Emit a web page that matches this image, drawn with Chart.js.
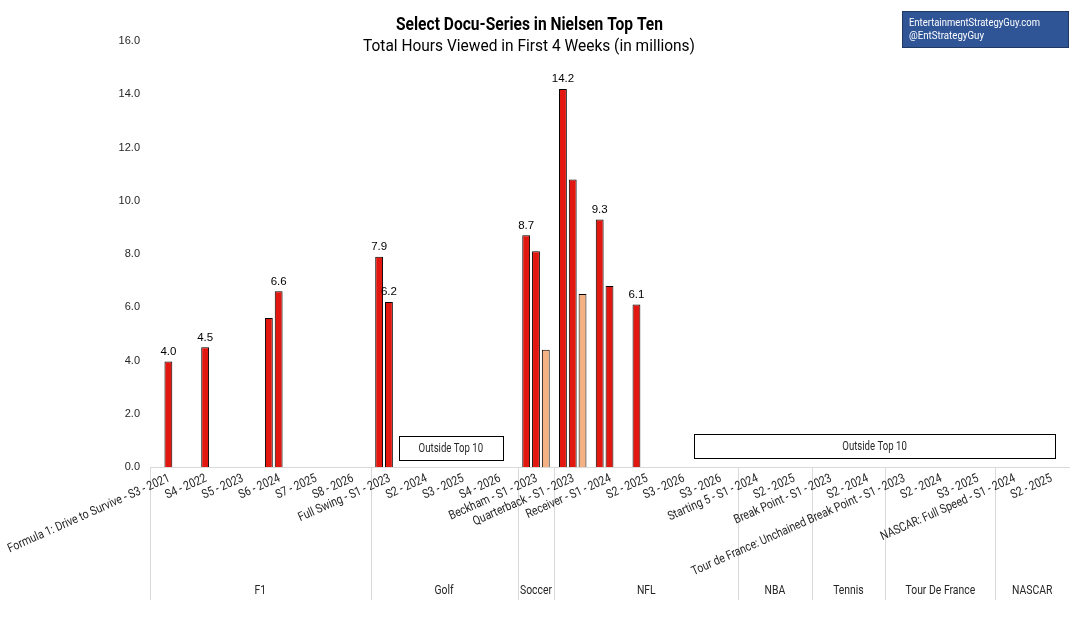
<!DOCTYPE html>
<html>
<head>
<meta charset="utf-8">
<script src="https://cdn.jsdelivr.net/npm/chart.js@4.4.1/dist/chart.umd.min.js"></script>
<style>
  html, body { margin: 0; padding: 0; background: #ffffff; }
  #wrap { width: 1086px; height: 624px; }
</style>
</head>
<body>
<div id="wrap"><canvas id="docuChart"></canvas></div>
<script>
// Chart data
const categories = [
    'Formula 1: Drive to Survive - S3 - 2021', 'S4 - 2022', 'S5 - 2023', 'S6 - 2024', 'S7 - 2025', 'S8 - 2026',
    'Full Swing - S1 - 2023', 'S2 - 2024', 'S3 - 2025', 'S4 - 2026',
    'Beckham - S1 - 2023',
    'Quarterback - S1 - 2023', 'Receiver - S1 - 2024', 'S2 - 2025', 'S3 - 2026', 'S3 - 2026',
    'Starting 5 - S1 - 2024', 'S2 - 2025',
    'Break Point - S1 - 2023', 'S2 - 2024',
    'Tour de France: Unchained Break Point - S1 - 2023', 'S2 - 2024', 'S3 - 2025',
    'NASCAR: Full Speed - S1 - 2024', 'S2 - 2025'
];
const groupNames = ['F1', 'Golf', 'Soccer', 'NFL', 'NBA', 'Tennis', 'Tour De France', 'NASCAR'];
const groupSizes = [6, 4, 1, 5, 2, 2, 3, 2];

const seriesA = [null, null, null, 5.6, null, null, 7.9, null, null, null, 8.7, 14.2, 9.3, 6.1, null, null, null, null, null, null, null, null, null, null, null];
const seriesB = [3.96, 4.5, null, 6.6, null, null, 6.2, null, null, null, 8.1, 10.8, 6.8, null, null, null, null, null, null, null, null, null, null, null, null];
const seriesC = [null, null, null, null, null, null, null, null, null, null, 4.4, 6.5, null, null, null, null, null, null, null, null, null, null, null, null, null];

// which bars carry a value label
const labelA = [6, 10, 11, 12, 13];
const labelB = [0, 1, 3, 6];

const yTicks = [0, 2, 4, 6, 8, 10, 12, 14, 16];

// "Outside Top 10" boxes, in category units / value units
const outsideFrom = [6.27, 14.3];
const outsideTo = [9.1, 24.12];
const outsideLow = [0.25, 0.34];
const outsideHigh = [1.15, 1.24];

const sans = "Roboto, 'Liberation Sans', sans-serif";
const red = '#E2170F';
const peach = '#F4B183';

// draw horizontally squeezed text, optionally rotated around its anchor
function narrowText(ctx, text, x, y, align, angle, squeeze) {
    ctx.save();
    ctx.translate(x, y);
    if (angle) ctx.rotate(angle);
    ctx.scale(squeeze, 1);
    ctx.textAlign = align;
    ctx.fillText(text, 0, 0);
    ctx.restore();
}

const extrasPlugin = {
    id: 'extras',
    beforeDraw(chart) {
        const ctx = chart.ctx;
        ctx.save();
        ctx.fillStyle = '#ffffff';
        ctx.fillRect(0, 0, chart.width, chart.height);
        ctx.restore();
    },
    afterDatasetsDraw(chart) {
        const ctx = chart.ctx;
        ctx.save();
        ctx.font = '11.5px "Liberation Sans", Arial, sans-serif';
        ctx.fillStyle = '#000000';
        ctx.textAlign = 'center';
        ctx.textBaseline = 'bottom';
        [[0, labelA, seriesA], [1, labelB, seriesB]].forEach(function(item) {
            const meta = chart.getDatasetMeta(item[0]);
            item[1].forEach(function(i) {
                const bar = meta.data[i];
                ctx.fillText(item[2][i].toFixed(1), bar.x, bar.y - 4);
            });
        });
        ctx.restore();
    },
    afterDraw(chart) {
        const ctx = chart.ctx;
        const x = chart.scales.x;
        const y = chart.scales.y;
        const area = chart.chartArea;
        const slot = (area.right - area.left) / categories.length;
        ctx.save();

        // group separators and group names
        ctx.strokeStyle = '#D9D9D9';
        ctx.fillStyle = '#262626';
        ctx.lineWidth = 1;
        ctx.font = '13px ' + sans;
        ctx.textBaseline = 'middle';
        let start = 0;
        groupSizes.forEach(function(size, g) {
            const left = area.left + start * slot;
            const right = left + size * slot;
            ctx.beginPath();
            ctx.moveTo(Math.round(left) + 0.5, area.bottom);
            ctx.lineTo(Math.round(left) + 0.5, 600);
            ctx.stroke();
            narrowText(ctx, groupNames[g], (left + right) / 2, 591, 'center', 0, 0.8);
            start += size;
        });

        // rotated category labels
        ctx.font = '12.5px ' + sans;
        categories.forEach(function(c, i) {
            narrowText(ctx, c, x.getPixelForValue(i) + 1, area.bottom + 11, 'right', -24 * Math.PI / 180, 0.84);
        });

        // outside top 10 boxes
        ctx.strokeStyle = '#000000';
        ctx.font = '12px ' + sans;
        outsideFrom.forEach(function(v, i) {
            const l = x.getPixelForValue(v);
            const r = x.getPixelForValue(outsideTo[i]);
            const t = y.getPixelForValue(outsideHigh[i]);
            const b = y.getPixelForValue(outsideLow[i]);
            ctx.fillStyle = '#ffffff';
            ctx.fillRect(l, t, r - l, b - t);
            ctx.strokeRect(Math.round(l) + 0.5, Math.round(t) + 0.5, Math.round(r - l), Math.round(b - t));
            ctx.fillStyle = '#262626';
            narrowText(ctx, 'Outside Top 10', (l + r) / 2, (t + b) / 2 + 1, 'center', 0, 0.8);
        });

        // titles
        ctx.fillStyle = '#000000';
        ctx.textAlign = 'center';
        ctx.font = 'bold 18px ' + sans;
        ctx.fillText('Select Docu-Series in Nielsen Top Ten', 529.5, 25, 267);
        ctx.font = '17px ' + sans;
        ctx.fillText('Total Hours Viewed in First 4 Weeks (in millions)', 529, 47, 332);

        // credit box
        ctx.fillStyle = '#2F5597';
        ctx.fillRect(902, 11, 166, 36);
        ctx.strokeStyle = '#1F3864';
        ctx.strokeRect(902.5, 11.5, 166, 36);
        ctx.fillStyle = '#ffffff';
        ctx.textAlign = 'left';
        ctx.font = '11.5px ' + sans;
        ctx.fillText('EntertainmentStrategyGuy.com', 909, 23, 131);
        ctx.fillText('@EntStrategyGuy', 909, 36, 75);

        ctx.restore();
    }
};

const barStyle = {
    borderColor: '#000000',
    borderWidth: 1,
    barPercentage: 0.8,
    categoryPercentage: 0.8
};

new Chart(document.getElementById('docuChart'), {
    type: 'bar',
    data: {
        labels: categories,
        datasets: [
            Object.assign({ label: 'A', data: seriesA, backgroundColor: red }, barStyle),
            Object.assign({ label: 'B', data: seriesB, backgroundColor: red }, barStyle),
            Object.assign({ label: 'C', data: seriesC, backgroundColor: peach }, barStyle)
        ]
    },
    options: {
        responsive: true,
        maintainAspectRatio: false,
        animation: false,
        devicePixelRatio: 1,
        layout: {
            padding: { top: 41, right: 17, bottom: 0, left: 0 }
        },
        plugins: {
            legend: { display: false },
            tooltip: { enabled: false }
        },
        scales: {
            x: {
                grid: { display: false, drawTicks: false },
                border: { display: true, color: '#D9D9D9', width: 1 },
                ticks: { display: false, autoSkip: false },
                afterFit(scale) {
                    scale.paddingLeft = 0;
                    scale.paddingRight = 0;
                    scale.height = 157;
                }
            },
            y: {
                min: 0,
                max: 16,
                afterBuildTicks(scale) {
                    scale.ticks = yTicks.map(function(v) { return { value: v }; });
                },
                grid: { display: false, drawTicks: false },
                border: { display: false },
                ticks: {
                    padding: 10,
                    color: '#262626',
                    font: { family: "'Liberation Sans', Arial, sans-serif", size: 11 },
                    callback: function(v) { return Number(v).toFixed(1); }
                },
                afterFit(scale) {
                    scale.width = 150;
                }
            }
        }
    },
    plugins: [extrasPlugin]
});
</script>
</body>
</html>
